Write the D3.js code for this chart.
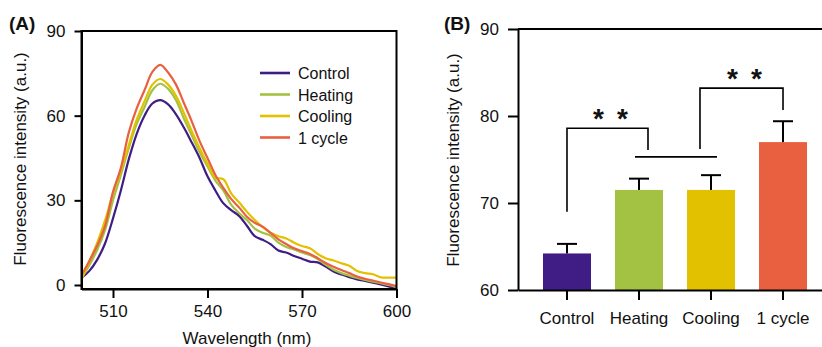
<!DOCTYPE html>
<html>
<head>
<meta charset="utf-8">
<script src="https://cdn.jsdelivr.net/npm/d3@7"></script>
<style>
  body { margin: 0; background: #fff; }
  svg { display: block; font-family: "Liberation Sans", Arial, sans-serif; }
  .axis path, .axis line { stroke: #000; stroke-width: 2; }
  .axis text { font-size: 17px; fill: #111; font-family: "Liberation Sans", Arial, sans-serif; }
</style>
</head>
<body>
<div id="chart"></div>
<script>
// ---- data: panel A spectra ----
const wavelength = [500, 502.5, 505, 507.5, 510, 512.5, 515, 517.5, 520, 522.5, 525, 527.5, 530, 532.5, 535, 537.5, 540,
  542.5, 545, 547.5, 550, 552.5, 555, 557.5, 560, 562.5, 565, 567.5, 570, 572.5, 575, 577.5, 580, 582.5, 585, 587.5,
  590, 592.5, 595, 597.5, 600];
const controlSpec = [2.5, 5, 9, 14.8, 23.6, 33.5, 44.5, 53.5, 60, 64.3, 65.5, 64, 60.5, 55.8, 50.5, 45, 38.5,
  33.5, 29, 26.5, 24.5, 21, 17.3, 16, 14.5, 12.2, 11.5, 10.3, 9.3, 8.3, 8, 6.5, 4.8, 3.7, 2.8, 2.0,
  1.4, 0.8, 0.2, -0.5, -1.3];
const heatingSpec = [2.5, 7, 12.5, 19.5, 30, 39, 48.5, 57, 63, 69, 71.3, 69.5, 65.5, 59, 53, 47, 42,
  37, 33.5, 28.5, 25.5, 23, 20, 18.5, 17.5, 15, 13.5, 12.6, 11.5, 10.6, 9.2, 7.2, 5.4, 4.2, 3.3, 2.5,
  1.8, 1.2, 0.6, 0, -0.8];
const coolingSpec = [2, 8.5, 15, 23, 32.5, 40.5, 49.5, 58.5, 65, 71, 73, 71, 67, 61, 54.5, 48.5, 43,
  38, 37.5, 32.5, 29.3, 26, 23, 20.5, 18.5, 17.3, 16.5, 15, 13.8, 13, 11, 9.5, 8.7, 7.7, 6.8, 5,
  4.2, 3.8, 2.7, 2.6, 2.6];
const cycleSpec = [3.5, 8.5, 14, 21, 33, 41.5, 54, 62.5, 69, 75.5, 78, 75.3, 71, 64.5, 58, 51, 45,
  39, 34.5, 30.5, 27.5, 24.2, 22, 20.7, 18.5, 16.2, 14.5, 13, 12, 11, 9.5, 7.8, 6.5, 5.3, 4.2, 3,
  2.2, 1.6, 0.9, 0.3, -0.4];

const groups = ['Control', 'Heating', 'Cooling', '1 cycle'];
const colors = ['#3f1d84', '#a3c142', '#e2c100', '#e8603f'];
const spectra = [controlSpec, heatingSpec, coolingSpec, cycleSpec];

const xTicksA = [510, 540, 570, 600];
const yTicksA = [0, 30, 60, 90];

// ---- data: panel B bars ----
const barMean = [64.2, 71.5, 71.5, 77.0];
const barErr = [1.1, 1.3, 1.7, 2.4];
const yTicksB = [60, 70, 80, 90];
// significance brackets: [left pos, right pos, left foot, right foot, top] (positions in category index units)
const brackets = [
  [0, 1.125, 69.0, 76.1, 78.6],
  [1.847, 3, 76.2, 80.7, 83.2]
];
const groupLine = [0.944, 2.083, 75.3];

const width = 822, height = 347;
const svg = d3.select('#chart').append('svg')
  .attr('width', width).attr('height', height);

// ================= Panel A =================
const xA = d3.scaleLinear().domain([500, 600]).range([81.5, 396.5]);
const yA = d3.scaleLinear().domain([-1.42, 90]).range([289, 31]);

svg.append('defs').append('clipPath').attr('id', 'clipA')
  .append('rect').attr('x', 82).attr('y', 31).attr('width', 314).attr('height', 258);

const line = d3.line()
  .x(d => xA(d[0]))
  .y(d => yA(d[1]))
  .curve(d3.curveCatmullRom.alpha(0.5));

const gLines = svg.append('g').attr('clip-path', 'url(#clipA)');
spectra.forEach((s, i) => {
  gLines.append('path')
    .datum(wavelength.map((w, j) => [w, s[j]]))
    .attr('fill', 'none')
    .attr('stroke', colors[i])
    .attr('stroke-width', 2.2)
    .attr('stroke-linejoin', 'round')
    .attr('d', line);
});

// frame
svg.append('rect')
  .attr('x', xA(500)).attr('y', yA(90))
  .attr('width', xA(600) - xA(500)).attr('height', yA(-1.42) - yA(90))
  .attr('fill', 'none').attr('stroke', '#000').attr('stroke-width', 2);

svg.append('g').attr('class', 'axis')
  .attr('transform', `translate(0,${yA(-1.42)})`)
  .call(d3.axisBottom(xA).tickValues(xTicksA).tickSize(9).tickPadding(7).tickSizeOuter(0));

svg.append('g').attr('class', 'axis')
  .attr('transform', `translate(${xA(500)},0)`)
  .call(d3.axisLeft(yA).tickValues(yTicksA).tickSize(7).tickPadding(9).tickSizeOuter(0));

svg.append('text')
  .attr('x', 247).attr('y', 344)
  .attr('text-anchor', 'middle')
  .style('font-size', '17px').attr('fill', '#111')
  .text('Wavelength (nm)');

svg.append('text')
  .attr('transform', 'translate(26,159) rotate(-90)')
  .attr('text-anchor', 'middle')
  .style('font-size', '17px').attr('fill', '#111')
  .text('Fluorescence intensity (a.u.)');

svg.append('text')
  .attr('x', 9).attr('y', 30)
  .style('font-size', '19px').style('font-weight', 'bold').attr('fill', '#111')
  .text('(A)');

// legend
const legend = svg.append('g').attr('transform', 'translate(260,73)');
groups.forEach((g, i) => {
  const row = legend.append('g').attr('transform', `translate(0,${i * 21.5})`);
  row.append('line').attr('x1', 0).attr('x2', 30).attr('y1', 0).attr('y2', 0)
    .attr('stroke', colors[i]).attr('stroke-width', 2.6);
  row.append('text').attr('x', 38).attr('y', 6)
    .style('font-size', '16px').attr('fill', '#111')
    .text(g);
});

// ================= Panel B =================
const xB = d3.scaleBand().domain(groups).range([518, 832]).paddingInner(1 / 3).paddingOuter(0.347);
const yB = d3.scaleLinear().domain([60, 90]).range([290, 29]);
const pos = d3.scaleLinear().domain([0, 3])
  .range([xB(groups[0]) + xB.bandwidth() / 2, xB(groups[3]) + xB.bandwidth() / 2]);

svg.selectAll('.bar')
  .data(groups)
  .enter().append('rect')
  .attr('class', 'bar')
  .attr('x', d => xB(d))
  .attr('y', (d, i) => yB(barMean[i]))
  .attr('width', xB.bandwidth())
  .attr('height', (d, i) => yB(60) - yB(barMean[i]))
  .attr('fill', (d, i) => colors[i]);

// error bars
groups.forEach((g, i) => {
  const cx = xB(g) + xB.bandwidth() / 2;
  const eg = svg.append('g').attr('stroke', '#000').attr('stroke-width', 2);
  eg.append('line').attr('x1', cx).attr('x2', cx)
    .attr('y1', yB(barMean[i])).attr('y2', yB(barMean[i] + barErr[i]));
  eg.append('line').attr('x1', cx - 10).attr('x2', cx + 10)
    .attr('y1', yB(barMean[i] + barErr[i])).attr('y2', yB(barMean[i] + barErr[i]));
});

// axes B
svg.append('g').attr('class', 'axis')
  .attr('transform', 'translate(0,290)')
  .call(d3.axisBottom(xB).tickSize(10).tickPadding(12).tickSizeOuter(0));

svg.append('g').attr('class', 'axis')
  .attr('transform', 'translate(518,0)')
  .call(d3.axisLeft(yB).tickValues(yTicksB).tickSize(10).tickPadding(9).tickSizeOuter(0));

svg.append('line')
  .attr('x1', 518).attr('x2', 832).attr('y1', yB(90)).attr('y2', yB(90))
  .attr('stroke', '#000').attr('stroke-width', 2);

svg.append('text')
  .attr('transform', 'translate(459,160) rotate(-90)')
  .attr('text-anchor', 'middle')
  .style('font-size', '17px').attr('fill', '#111')
  .text('Fluorescence intensity (a.u.)');

svg.append('text')
  .attr('x', 444).attr('y', 30)
  .style('font-size', '19px').style('font-weight', 'bold').attr('fill', '#111')
  .text('(B)');

// significance brackets
const bg = svg.append('g').attr('fill', 'none').attr('stroke', '#000').attr('stroke-width', 1.6);
brackets.forEach(b => {
  const [l, r, lf, rf, top] = b;
  bg.append('path')
    .attr('d', `M${pos(l)},${yB(lf)}V${yB(top)}H${pos(r)}V${yB(rf)}`);
  const mid = (pos(l) + pos(r)) / 2 + 3;
  [-12, 12].forEach(dx => {
    svg.append('text')
      .attr('x', mid + dx).attr('y', yB(top) - 0.5)
      .attr('text-anchor', 'middle')
      .style('font-size', '28px').style('font-weight', 'bold').attr('fill', '#111')
      .text('*');
  });
});
bg.append('line')
  .attr('x1', pos(groupLine[0])).attr('x2', pos(groupLine[1]))
  .attr('y1', yB(groupLine[2])).attr('y2', yB(groupLine[2]));
</script>
</body>
</html>
